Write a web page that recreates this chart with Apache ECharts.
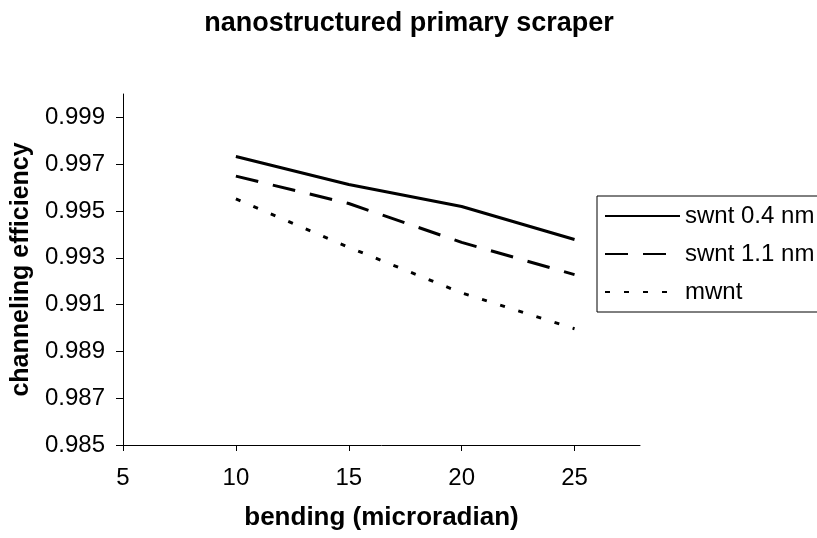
<!DOCTYPE html>
<html>
<head>
<meta charset="utf-8">
<script src="https://cdn.jsdelivr.net/npm/echarts@6/dist/echarts.min.js"></script>
<style>
html,body{margin:0;padding:0;background:#fff;}
#chart{width:817px;height:538px;}
</style>
</head>
<body>
<div id="chart"></div>
<script>
var bending = [10, 15, 20, 25];
var swnt04 = [0.99733, 0.99613, 0.99519, 0.99378];
var swnt11 = [0.99649, 0.99532, 0.99366, 0.99228];
var mwnt = [0.99552, 0.99345, 0.99150, 0.98997];
var seriesNames = ['swnt 0.4 nm', 'swnt 1.1 nm', 'mwnt'];
var xTicks = [5, 10, 15, 20, 25];
var yTicks = [0.985, 0.987, 0.989, 0.991, 0.993, 0.995, 0.997, 0.999];

function pairs(xs, ys) { return xs.map(function (x, i) { return [x, ys[i]]; }); }

var FONT = '"Liberation Sans", Arial, sans-serif';
var chart = echarts.init(document.getElementById('chart'));
chart.setOption({
  animation: false,
  backgroundColor: '#fff',
  title: {
    text: 'nanostructured primary scraper',
    left: 404, top: 5, textAlign: 'center',
    textStyle: { fontFamily: FONT, fontSize: 27, fontWeight: 'bold', color: '#000' }
  },
  grid: { left: 123, right: 177, top: 94, bottom: 93, containLabel: false },
  xAxis: {
    type: 'value', min: 5, max: 27.9,
    name: 'bending (microradian)', nameLocation: 'middle', nameGap: 60,
    nameTextStyle: { fontFamily: FONT, fontSize: 26, fontWeight: 'bold', color: '#000' },
    axisLine: { show: true, lineStyle: { color: '#000', width: 1 } },
    axisTick: { show: true, inside: false, length: 6, customValues: xTicks, lineStyle: { color: '#000' } },
    axisLabel: { customValues: xTicks, margin: 21, fontFamily: FONT, fontSize: 24, color: '#000' },
    splitLine: { show: false }
  },
  yAxis: {
    type: 'value', min: 0.985, max: 1.0,
    name: 'channeling efficiency', nameLocation: 'middle', nameGap: 88, nameRotate: 90,
    nameTextStyle: { fontFamily: FONT, fontSize: 25, fontWeight: 'bold', color: '#000' },
    axisLine: { show: true, lineStyle: { color: '#000', width: 1 } },
    axisTick: { show: true, inside: false, length: 7, customValues: yTicks, lineStyle: { color: '#000' } },
    axisLabel: { customValues: yTicks, margin: 18, fontFamily: FONT, fontSize: 24, color: '#000',
      formatter: function (v) { return v.toFixed(3); } },
    splitLine: { show: false }
  },
  legend: {
    orient: 'vertical', left: 597, top: 196,
    data: seriesNames,
    backgroundColor: '#fff',
    borderColor: '#000', borderWidth: 1,
    padding: [8, 60, 8, 7],
    itemWidth: 75, itemHeight: 22, itemGap: 14,
    itemStyle: { opacity: 0 },
    textStyle: { fontFamily: FONT, fontSize: 24, color: '#000' }
  },
  series: [
    { name: seriesNames[0], type: 'line', data: pairs(bending, swnt04), showSymbol: false, symbol: 'none',
      lineStyle: { color: '#000', width: 3, type: 'solid' }, itemStyle: { color: '#000' } },
    { name: seriesNames[1], type: 'line', data: pairs(bending, swnt11), showSymbol: false, symbol: 'none',
      lineStyle: { color: '#000', width: 3, type: [23, 15] }, itemStyle: { color: '#000' } },
    { name: seriesNames[2], type: 'line', data: pairs(bending, mwnt), showSymbol: false, symbol: 'none',
      lineStyle: { color: '#000', width: 3, type: [5, 14] }, itemStyle: { color: '#000' } }
  ]
});
</script>
</body>
</html>
